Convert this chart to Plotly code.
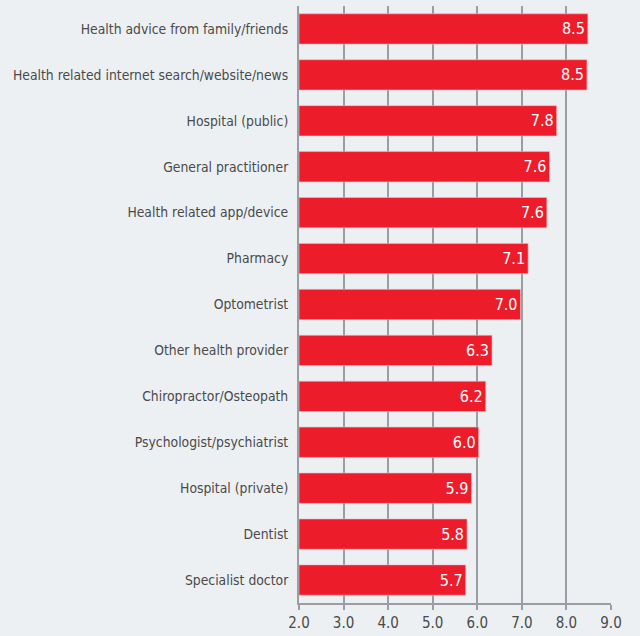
import plotly.graph_objects as go

categories = [
    "Health advice from family/friends",
    "Health related internet search/website/news",
    "Hospital (public)",
    "General practitioner",
    "Health related app/device",
    "Pharmacy",
    "Optometrist",
    "Other health provider",
    "Chiropractor/Osteopath",
    "Psychologist/psychiatrist",
    "Hospital (private)",
    "Dentist",
    "Specialist doctor",
]
values = [8.48, 8.46, 7.78, 7.62, 7.56, 7.14, 6.97, 6.33, 6.19, 6.03, 5.87, 5.77, 5.74]
x_ticks = [2, 3, 4, 5, 6, 7, 8, 9]
x_tick_labels = ["2.0", "3.0", "4.0", "5.0", "6.0", "7.0", "8.0", "9.0"]

FONT = "DejaVu Sans Condensed, Roboto, sans-serif"
BG = "#ecf0f3"
RED = "#ed1c2a"
GRID = "#9a9ea2"

fig = go.Figure(
    go.Bar(
        x=[v - 2 for v in values],
        base=2,
        y=categories,
        orientation="h",
        marker=dict(color=RED, line=dict(color="rgba(255,180,190,0.6)", width=1)),
        width=0.66,
        text=[f"{v:.1f}" for v in values],
        textposition="inside",
        insidetextanchor="end",
        textfont=dict(color="white", size=16, family=FONT),
        hoverinfo="skip",
    )
)

fig.update_layout(
    width=640,
    height=636,
    paper_bgcolor=BG,
    plot_bgcolor=BG,
    margin=dict(l=299, r=29, t=6, b=33),
    showlegend=False,
    font=dict(family=FONT, color="#4a4a4a", size=14),
    xaxis=dict(
        range=[2, 9],
        tickvals=x_ticks,
        ticktext=x_tick_labels,
        automargin=False,
        showgrid=True,
        gridcolor=GRID,
        gridwidth=2,
        zeroline=False,
        showline=True,
        linecolor=GRID,
        linewidth=2,
        ticks="outside",
        ticklen=5,
        tickwidth=2,
        tickcolor=GRID,
        tickfont=dict(size=15),
    ),
    yaxis=dict(
        categoryorder="array",
        categoryarray=categories[::-1],
        range=[-0.5, len(categories) - 0.5],
        automargin=False,
        showgrid=False,
        showline=True,
        linecolor=GRID,
        linewidth=2,
        ticks="",
        ticklabelstandoff=6,
        tickfont=dict(size=13.8),
    ),
)

fig.write_html(
    "out.html",
    config={"displayModeBar": False},
    post_script="document.body.style.margin='0';document.body.style.background='%s';" % BG,
)
